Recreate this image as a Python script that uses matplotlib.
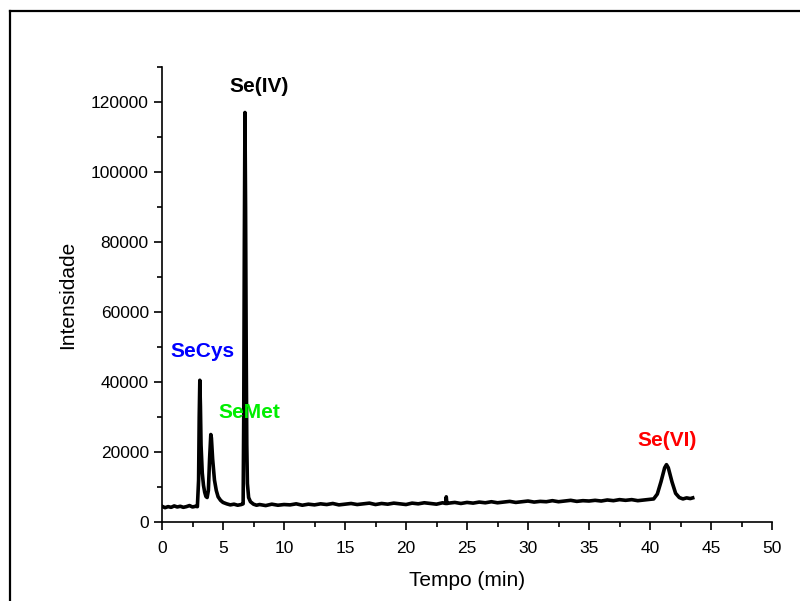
import matplotlib.pyplot as plt
from matplotlib.lines import Line2D

plt.rcParams['font.family'] = ['Liberation Sans', 'DejaVu Sans']

# chromatogram: time (min) and intensity
tempo = [0.0, 0.25, 0.5, 0.75, 1.0, 1.25, 1.5, 1.75, 2.0, 2.25, 2.5, 2.75, 2.9,
         3.0, 3.05, 3.1, 3.15, 3.2, 3.3, 3.4, 3.5, 3.6, 3.7,
         3.8, 3.9, 4.0, 4.05, 4.15, 4.3, 4.45, 4.6, 4.8, 5.0, 5.3, 5.6, 5.9, 6.2, 6.5, 6.65,
         6.7, 6.75, 6.8, 6.85, 6.9, 6.95, 7.0, 7.1, 7.25, 7.5, 7.75,
         8.0, 8.5, 9.0, 9.5, 10.0, 10.5, 11.0, 11.5, 12.0, 12.5, 13.0, 13.5, 14.0, 14.5,
         15.0, 15.5, 16.0, 16.5, 17.0, 17.5, 18.0, 18.5, 19.0, 19.5, 20.0, 20.5, 21.0,
         21.5, 22.0, 22.5, 23.0, 23.25, 23.3, 23.35, 23.5, 24.0, 24.5, 25.0, 25.5, 26.0,
         26.5, 27.0, 27.5, 28.0, 28.5, 29.0, 29.5, 30.0, 30.5, 31.0, 31.5, 32.0, 32.5,
         33.0, 33.5, 34.0, 34.5, 35.0, 35.5, 36.0, 36.5, 37.0, 37.5, 38.0, 38.5, 39.0,
         39.5, 40.0, 40.3, 40.6, 40.9, 41.2, 41.35, 41.5, 41.8, 42.1, 42.4, 42.7, 43.0,
         43.3, 43.5]
intensidade = [4500, 4100, 4400, 4200, 4600, 4300, 4500, 4200, 4400, 4700, 4300, 4500, 4400,
               12000, 30000, 40500, 33000, 22000, 14000, 10500, 8500, 7300, 7000,
               9000, 18000, 25000, 24000, 18000, 12000, 9000, 7200, 6200, 5600, 5200, 4900,
               5100, 4800, 5000, 5200,
               30000, 80000, 117000, 90000, 50000, 22000, 11000, 7000, 5800, 5100, 4800,
               5000, 4700, 5100, 4800, 5000, 4900, 5200, 4800, 5100, 4900, 5200, 5000, 5300,
               4900, 5100, 5300, 5000, 5200, 5400, 5000, 5300, 5100, 5400, 5200, 5000, 5400,
               5200, 5500, 5300, 5100, 5500, 5300, 7200, 5300, 5400, 5600, 5300, 5600, 5400,
               5700, 5500, 5800, 5500, 5700, 5900, 5600, 5800, 6000, 5700, 5900, 5800, 6100,
               5800, 6000, 6200, 5900, 6100, 6000, 6200, 6000, 6300, 6100, 6400, 6200, 6400,
               6100, 6300, 6500, 6600, 8000, 11500, 15500, 16400, 15500, 11500, 8200, 7000,
               6600, 6900, 6700, 6900]

picos = ['SeCys', 'SeMet', 'Se(IV)', 'Se(VI)']
picos_x = [3.3, 7.2, 8.0, 41.4]
picos_y = [48700, 31200, 124300, 23200]
picos_cor = ['#0000ff', '#00ee00', 'black', '#ff0000']

fig = plt.figure(figsize=(8, 6.01), dpi=100)
ax = fig.add_axes([0.2025, 0.1314, 0.7625, 0.7571])

ax.plot(tempo, intensidade, color='black', linewidth=2.6)

for nome, px, py, cor in zip(picos, picos_x, picos_y, picos_cor):
    ax.text(px, py, nome, color=cor, fontsize=15, fontweight='bold',
            ha='center', va='center')

ax.set_xlim(0, 50)
ax.set_ylim(0, 130000)
ax.set_xticks(range(0, 51, 5))
ax.set_xticks([x + 2.5 for x in range(0, 50, 5)], minor=True)
ax.set_yticks(range(0, 120001, 20000))
ax.set_yticks(range(10000, 130001, 20000), minor=True)

ax.spines['top'].set_visible(False)
ax.spines['right'].set_visible(False)
ax.spines['left'].set_linewidth(1.2)
ax.spines['bottom'].set_linewidth(1.2)
ax.tick_params(which='major', direction='out', length=6, width=1.2, labelsize=12.5)
ax.tick_params(axis='x', which='major', pad=7.5)
ax.tick_params(which='minor', direction='out', length=3.5, width=1.2)

ax.set_xlabel('Tempo (min)', fontsize=15, labelpad=11)
ax.set_ylabel('Intensidade', fontsize=15, labelpad=10)

# frame of the original figure (left and top edges only)
fig.add_artist(Line2D([10 / 800, 10 / 800], [0, 1 - 11 / 601],
                      transform=fig.transFigure, color='black', linewidth=1.6))
fig.add_artist(Line2D([10 / 800, 1], [1 - 11 / 601, 1 - 11 / 601],
                      transform=fig.transFigure, color='black', linewidth=1.6))

fig.savefig('out.png', dpi=100)
